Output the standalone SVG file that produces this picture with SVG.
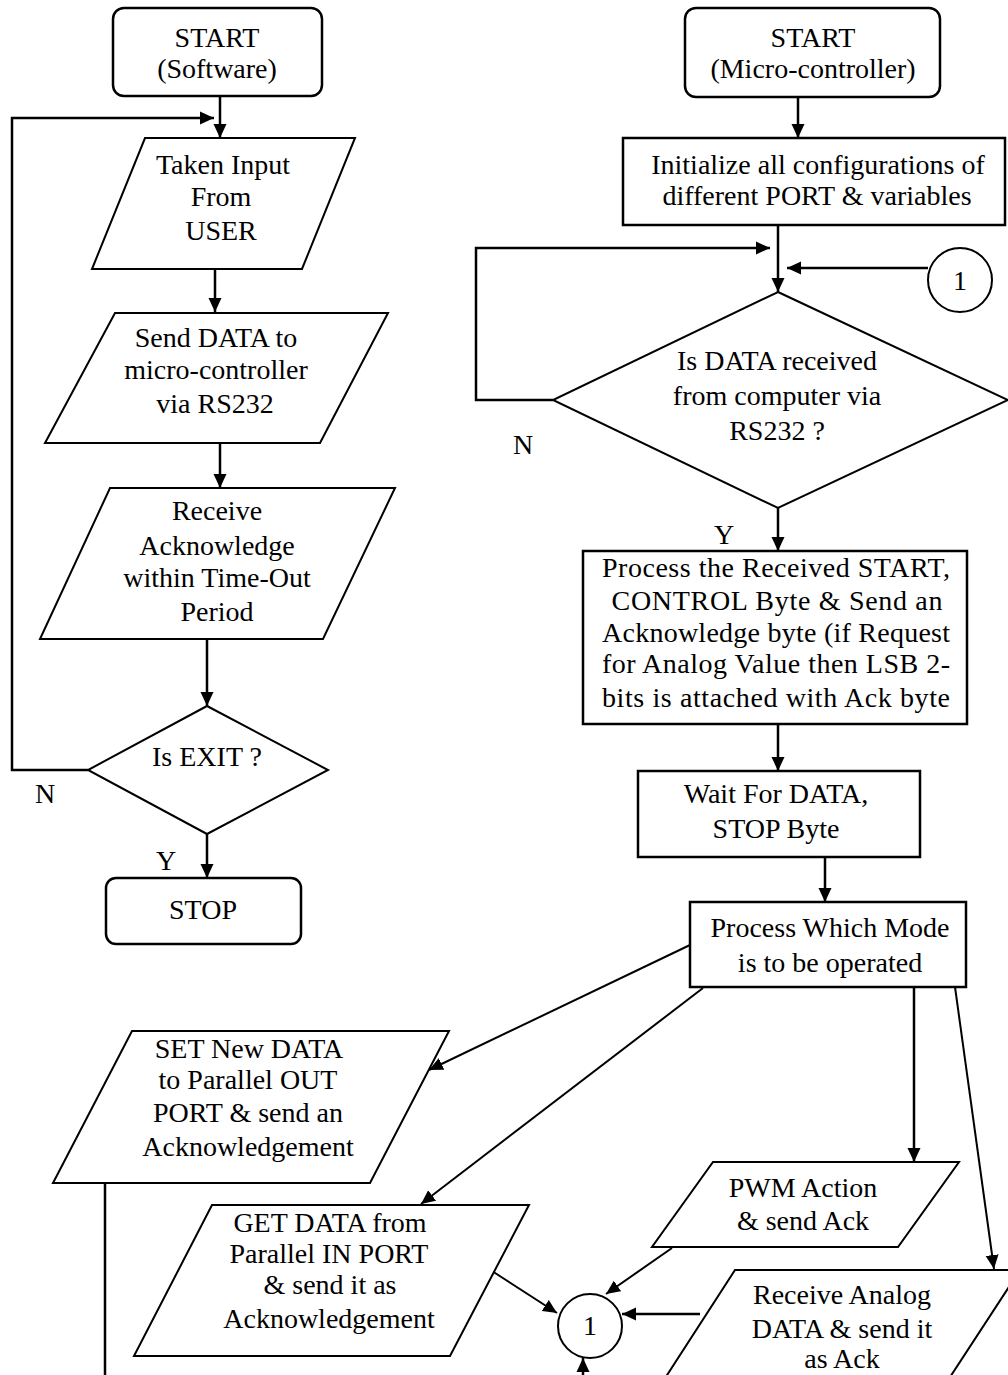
<svg xmlns="http://www.w3.org/2000/svg" width="1008" height="1375" viewBox="0 0 1008 1375">
<style>
.s{fill:#fff;stroke:#000;stroke-width:2.5}
.d{fill:#fff;stroke:#000;stroke-width:2}
.t{font-family:'Liberation Serif','Times New Roman','DejaVu Serif',serif;font-size:28px;fill:#000;text-anchor:middle}
.c{fill:none;stroke:#000;stroke-width:2.5}
.c2{fill:none;stroke:#000;stroke-width:2}
</style>
<defs>
<marker id="a" markerUnits="userSpaceOnUse" markerWidth="15" markerHeight="14" refX="14" refY="6.5" orient="auto" viewBox="0 0 15 13">
<path d="M0,0 L14,6.5 L0,13 z" fill="#000"/>
</marker>
</defs>
<rect width="1008" height="1375" fill="#fff"/>

<g id="connectors">
<path class="c" d="M88,770 H12 V118 H214" marker-end="url(#a)"/>
<path class="c" d="M220,96 V138" marker-end="url(#a)"/>
<path class="c" d="M215,269 V312" marker-end="url(#a)"/>
<path class="c" d="M220,443 V488" marker-end="url(#a)"/>
<path class="c" d="M207,639 V706" marker-end="url(#a)"/>
<path class="c" d="M207,834 V878" marker-end="url(#a)"/>
<path class="c" d="M798,97 V138" marker-end="url(#a)"/>
<path class="c" d="M778,225 V292" marker-end="url(#a)"/>
<path class="c" d="M553,400 H476 V248 H770" marker-end="url(#a)"/>
<path class="c" d="M928,268 H787" marker-end="url(#a)"/>
<path class="c" d="M778,508 V551" marker-end="url(#a)"/>
<path class="c" d="M778,724 V771" marker-end="url(#a)"/>
<path class="c" d="M825,857 V902" marker-end="url(#a)"/>
<path class="c2" d="M690,945 L429,1070" marker-end="url(#a)"/>
<path class="c2" d="M703,988 L421,1204" marker-end="url(#a)"/>
<path class="c" d="M914,987 V1162" marker-end="url(#a)"/>
<path class="c2" d="M955,987 L994,1269" marker-end="url(#a)"/>
<path class="c" d="M105,1183 V1375"/>
<path class="c2" d="M492,1271 L557,1313" marker-end="url(#a)"/>
<path class="c2" d="M672,1248 L606,1294" marker-end="url(#a)"/>
<path class="c" d="M700,1314 H622" marker-end="url(#a)"/>
<path class="c" d="M583,1380 V1358" marker-end="url(#a)"/>
</g>

<g id="start-sw">
<rect class="s" x="113" y="8" width="209" height="88" rx="11"/>
<text class="t" x="217" y="47">START</text>
<text class="t" x="217" y="78">(Software)</text>
</g>
<g id="input-user">
<polygon class="d" points="145,138 355,138 302,269 92,269"/>
<text class="t" x="223" y="174">Taken Input</text>
<text class="t" x="221" y="206">From</text>
<text class="t" x="221" y="240">USER</text>
</g>
<g id="send-data">
<polygon class="d" points="115,313 388,313 320,443 45,443"/>
<text class="t" x="216" y="347">Send DATA to</text>
<text class="t" x="216" y="379">micro-controller</text>
<text class="t" x="215" y="413">via RS232</text>
</g>
<g id="receive-ack">
<polygon class="d" points="110,488 395,488 323,639 40,639"/>
<text class="t" x="217" y="520">Receive</text>
<text class="t" x="217" y="555">Acknowledge</text>
<text class="t" x="217" y="587">within Time-Out</text>
<text class="t" x="217" y="621">Period</text>
</g>
<g id="is-exit">
<polygon class="d" points="207,706 328,770 207,834 88,770"/>
<text class="t" x="207" y="766">Is EXIT ?</text>
</g>
<text class="t" x="45" y="803">N</text>
<text class="t" x="166" y="870">Y</text>
<g id="stop">
<rect class="s" x="106" y="878" width="195" height="66" rx="10"/>
<text class="t" x="203" y="919">STOP</text>
</g>

<g id="start-mc">
<rect class="s" x="685" y="8" width="255" height="89" rx="11"/>
<text class="t" x="813" y="47">START</text>
<text class="t" x="813" y="78">(Micro-controller)</text>
</g>
<g id="init">
<rect class="s" x="623" y="138" width="382" height="87"/>
<text class="t" x="818" y="174">Initialize all configurations of</text>
<text class="t" x="817" y="205">different PORT &amp; variables</text>
</g>
<g id="connector-1-top">
<circle class="d" cx="960" cy="280" r="32"/>
<text class="t" x="960" y="290">1</text>
</g>
<g id="is-data">
<polygon class="d" points="778,292 1008,400 778,508 553,400"/>
<text class="t" x="777" y="370">Is DATA received</text>
<text class="t" x="777" y="405">from computer via</text>
<text class="t" x="777" y="440">RS232 ?</text>
</g>
<text class="t" x="523" y="454">N</text>
<text class="t" x="724" y="544">Y</text>
<g id="process-start">
<rect class="s" x="583" y="551" width="384" height="173"/>
<text class="t" x="776" y="577" textLength="348" lengthAdjust="spacing">Process the Received START,</text>
<text class="t" x="777" y="610" textLength="331" lengthAdjust="spacing">CONTROL Byte &amp; Send an</text>
<text class="t" x="776" y="642" textLength="348" lengthAdjust="spacing">Acknowledge byte (if Request</text>
<text class="t" x="776" y="673" textLength="348" lengthAdjust="spacing">for Analog Value then LSB 2-</text>
<text class="t" x="776" y="707" textLength="348" lengthAdjust="spacing">bits is attached with Ack byte</text>
</g>
<g id="wait">
<rect class="s" x="638" y="771" width="282" height="86"/>
<text class="t" x="776" y="803">Wait For DATA,</text>
<text class="t" x="776" y="838">STOP Byte</text>
</g>
<g id="mode">
<rect class="s" x="690" y="902" width="276" height="85"/>
<text class="t" x="830" y="937">Process Which Mode</text>
<text class="t" x="830" y="972">is to be operated</text>
</g>
<g id="set-data">
<polygon class="d" points="132,1031 449,1031 370,1183 53,1183"/>
<text class="t" x="249" y="1058">SET New DATA</text>
<text class="t" x="248" y="1089">to Parallel OUT</text>
<text class="t" x="248" y="1122">PORT &amp; send an</text>
<text class="t" x="248" y="1156">Acknowledgement</text>
</g>
<g id="get-data">
<polygon class="d" points="212,1205 529,1205 450,1356 134,1356"/>
<text class="t" x="330" y="1232">GET DATA from</text>
<text class="t" x="329" y="1263">Parallel IN PORT</text>
<text class="t" x="330" y="1294">&amp; send it as</text>
<text class="t" x="329" y="1328">Acknowledgement</text>
</g>
<g id="pwm">
<polygon class="d" points="713,1162 959,1162 898,1247 652,1247"/>
<text class="t" x="803" y="1197">PWM Action</text>
<text class="t" x="803" y="1230">&amp; send Ack</text>
</g>
<g id="analog">
<polygon class="d" points="735,1270 1020,1270 922,1420 638,1420"/>
<text class="t" x="842" y="1304">Receive Analog</text>
<text class="t" x="842" y="1338">DATA &amp; send it</text>
<text class="t" x="842" y="1368">as Ack</text>
</g>
<g id="connector-1-bottom">
<circle class="d" cx="590" cy="1326" r="32"/>
<text class="t" x="590" y="1335">1</text>
</g>
</svg>
